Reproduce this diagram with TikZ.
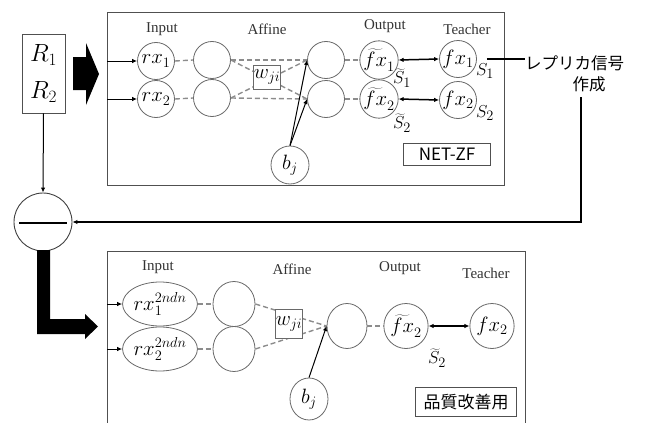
\documentclass[tikz,border=0pt]{standalone}
\usepackage{fontspec}
\setmainfont{Liberation Serif}
\newfontfamily\jpfont{Noto Sans CJK JP}
\usetikzlibrary{arrows.meta,shapes.geometric}
\definecolor{ring}{RGB}{105,105,105}
\definecolor{dashgray}{RGB}{140,140,140}
\definecolor{frame}{RGB}{80,80,80}
\begin{document}
\begin{tikzpicture}[x=1pt,y=-1pt,
  neuron/.style={circle,draw=ring,line width=0.8pt,minimum size=37pt,inner sep=0pt,
    font=\fontsize{20}{22}\selectfont},
  oval/.style={ellipse,draw=ring,line width=0.8pt,inner sep=0pt,
    font=\fontsize{20}{22}\selectfont},
  wbox/.style={rectangle,draw=ring,fill=white,line width=0.8pt,inner sep=0pt,
    font=\fontsize{20}{22}\selectfont},
  layertitle/.style={font=\fontsize{15}{17}\selectfont,text=black!80},
  wlink/.style={draw=dashgray,line width=1.4pt,dash pattern=on 5pt off 3pt},
  feed/.style={draw=black,line width=1pt,-{Latex[length=5pt,width=4.5pt]}},
  pair/.style={draw=black,line width=1.5pt,{Latex[length=5pt,width=4.5pt]}-{Latex[length=5pt,width=4.5pt]}},
  slabel/.style={font=\fontsize{19}{21}\selectfont},
  tagbox/.style={rectangle,draw=frame,line width=0.8pt,inner sep=0pt,
    font=\jpfont\fontsize{17}{19}\selectfont}]
\useasboundingbox (0,0) rectangle (651,423);

% ---------- upper network (NET-ZF) ----------
\draw[frame,line width=0.9pt] (107,12) rectangle (504,185);

\node[draw=frame,line width=0.8pt,minimum width=43pt,minimum height=79pt,inner sep=0pt,
  align=center,font=\fontsize{24}{37}\selectfont] (R) at (43.5,73.5) {$R_1$\\$R_2$};

% block arrow from the signal box into the network
\fill[black] (73,57) -- (86,57) -- (86,43) -- (99,74) -- (86,105) -- (86,90) -- (73,90) -- cycle;

\node[layertitle] (tin) at (162,29) {Input};
\node[layertitle] (taf) at (267,29) {Affine};
\node[layertitle] (tout) at (385,26) {Output};
\node[layertitle] (tte) at (467,29) {Teacher};

\node[neuron] (i1) at (156,61) {$rx_1$};
\node[neuron] (i2) at (156,99) {$rx_2$};
\node[neuron] (h1) at (212,60) {};
\node[neuron] (h2) at (212,98) {};
\node[neuron] (a1) at (326,60) {};
\node[neuron] (a2) at (326,99) {};
\node[neuron] (o1) at (379,60) {$\widetilde{fx}_1$};
\node[neuron] (o2) at (379,99) {$\widetilde{fx}_2$};
\node[neuron] (t1) at (458,59) {$fx_1$};
\node[neuron] (t2) at (458,100) {$fx_2$};
\node[neuron,minimum size=38pt] (b1) at (290,165) {$b_j$};

\coordinate (in1) at (107,61);
\coordinate (in2) at (107,99);
\draw[feed] (in1) -- (i1.west);
\draw[feed] (in2) -- (i2.west);

\draw[wlink] (i1.east) -- (h1.west);
\draw[wlink] (i2.east) -- (h2.west);
\draw[wlink] (h1.east) -- (a1.west);
\draw[wlink] (h2.east) -- (a2.west);
\draw[wlink] (h1.east) -- (a2.west);
\draw[wlink] (h2.east) -- (a1.west);
\draw[wlink] (a1.east) -- (o1.west);
\draw[wlink] (a2.east) -- (o2.west);

\node[wbox,minimum width=23pt,minimum height=24pt] (w1) at (267,77) {$w_{ji}$};

\draw[feed] (b1.north) -- (a1.west);
\draw[feed] (b1.north) -- (a2.west);

\draw[pair] (o1.east) -- (t1.west);
\draw[pair] (o2.east) -- (t2.west);

\node[slabel] (st1) at (402,78) {$\widetilde{S}_1$};
\node[slabel] (st2) at (402,123) {$\widetilde{S}_2$};
\node[slabel] (s1) at (485,71) {$S_1$};
\node[slabel] (s2) at (485,113) {$S_2$};

\node[tagbox,minimum width=87pt,minimum height=22pt] (net) at (447,154) {NET-ZF};

% replica signal generation and feedback
\node[font=\jpfont\fontsize{16.5}{18}\selectfont,inner sep=0pt,anchor=west] (rep) at (525,63) {レプリカ信号};
\node[font=\jpfont\fontsize{16.5}{18}\selectfont,inner sep=0pt] (mk) at (589,84) {作成};
\draw[black,line width=1.5pt,shorten <=10pt] (t1.east) -- (rep.west |- t1.east);

\node[circle,draw=black!75,line width=0.9pt,minimum size=58pt,inner sep=0pt,fill=white] (sub) at (43,222) {};
\draw[black,line width=1.6pt] ([xshift=-24pt,yshift=-1pt]sub.center) -- ([xshift=24pt,yshift=-1pt]sub.center);
\draw[feed] (R.south) -- (sub.north);

\coordinate (fb) at (581,97);
\draw[black,line width=1.3pt,-{Latex[length=5pt,width=4.5pt]}] (fb) |- (sub.east);

% ---------- lower network (quality improvement) ----------
\fill[black] (37,250) -- (50,250) -- (50,319) -- (85,319) -- (85,314) -- (98,326.5)
  -- (85,339) -- (85,334) -- (37,334) -- cycle;

\draw[frame,line width=0.9pt] (107,424) -- (107,251) -- (525,251) -- (525,424);

\node[layertitle] (uin) at (158,267) {Input};
\node[layertitle] (uaf) at (292,269) {Affine};
\node[layertitle] (uout) at (400,268) {Output};
\node[layertitle] (ute) at (486,273) {Teacher};

\node[oval,minimum width=69pt,minimum height=44pt] (j1) at (160,304) {$rx_1^{2ndn}$};
\node[oval,minimum width=69pt,minimum height=44pt] (j2) at (160,349) {$rx_2^{2ndn}$};
\node[oval,minimum width=42pt,minimum height=45pt] (k1) at (234,304) {};
\node[oval,minimum width=42pt,minimum height=45pt] (k2) at (234,349) {};
\node[oval,minimum width=40pt,minimum height=45pt] (m) at (347,326) {};
\node[oval,minimum width=38pt,minimum height=42pt] (b2) at (309,399) {$b_j$};
\node[oval,minimum width=39pt,minimum height=45pt] (p) at (406,326) {$\widetilde{fx}_2$};
\node[oval,minimum width=39pt,minimum height=45pt] (q) at (492,326) {$fx_2$};

\coordinate (in3) at (107,304);
\coordinate (in4) at (107,349);
\draw[feed] (in3) -- (j1.west);
\draw[feed] (in4) -- (j2.west);

\draw[wlink] (j1.east) -- (k1.west);
\draw[wlink] (j2.east) -- (k2.west);
\draw[wlink] (k1.east) -- (m.west);
\draw[wlink] (k2.east) -- (m.west);
\draw[wlink] (m.east) -- (p.west);

\node[wbox,minimum width=26pt,minimum height=29pt] (w2) at (289,324) {$w_{ji}$};

\draw[feed] (b2.north) -- (m.west);
\draw[pair] (p.east) -- (q.west);

\node[slabel] (st3) at (437,358) {$\widetilde{S}_2$};

\node[tagbox,minimum width=101pt,minimum height=29pt] (qi) at (466,402) {品質改善用};
\end{tikzpicture}
\end{document}
